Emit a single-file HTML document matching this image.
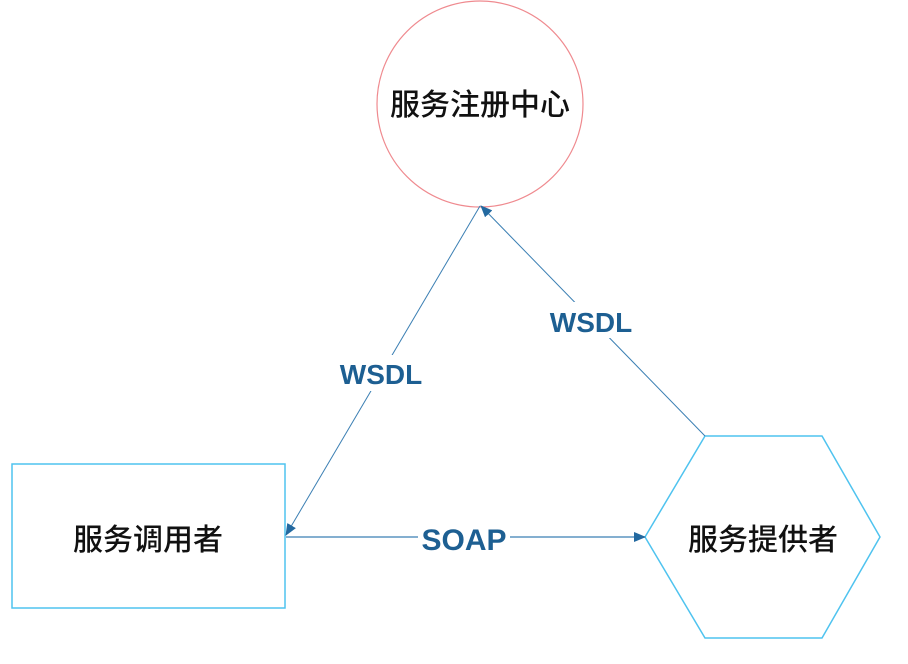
<!DOCTYPE html>
<html><head><meta charset="utf-8"><style>
body{margin:0;background:#fff;}
svg text{font-family:"Liberation Sans","Noto Sans CJK SC",sans-serif;}
</style></head><body>
<svg width="908" height="659" viewBox="0 0 908 659" xmlns="http://www.w3.org/2000/svg">
<defs>
<marker id="a" markerWidth="12" markerHeight="10" refX="11" refY="5" orient="auto" markerUnits="userSpaceOnUse">
<path d="M0,0 L12,5 L0,10 Z" fill="#2369a0"/></marker>
</defs>
<circle cx="480" cy="104" r="103" fill="none" stroke="#ef8a8f" stroke-width="1.2"/>
<rect x="12" y="464" width="273" height="144" fill="none" stroke="#4fc3ef" stroke-width="1.5"/>
<polygon points="645,537 705,436 822,436 880,537 822,638 705,638" fill="none" stroke="#4fc3ef" stroke-width="1.5"/>
<line x1="480" y1="206" x2="286" y2="535" stroke="#3b7fb3" stroke-width="1" marker-end="url(#a)"/>
<line x1="705" y1="436" x2="481" y2="206" stroke="#3b7fb3" stroke-width="1" marker-end="url(#a)"/>
<line x1="286" y1="537" x2="645" y2="537" stroke="#3b7fb3" stroke-width="1.2" marker-end="url(#a)"/>
<rect x="336" y="355" width="92" height="36" fill="#fff"/>
<text x="381" y="384" font-size="28" font-weight="bold" fill="#1d5f92" text-anchor="middle">WSDL</text>
<rect x="545" y="302" width="92" height="36" fill="#fff"/>
<text x="591" y="332" font-size="28" font-weight="bold" fill="#1d5f92" text-anchor="middle">WSDL</text>
<rect x="418" y="520" width="92" height="36" fill="#fff"/>
<text x="464" y="550" font-size="30" font-weight="bold" fill="#1d5f92" text-anchor="middle">SOAP</text>
<text x="480" y="115" font-size="30" font-weight="500" fill="#111" text-anchor="middle">服务注册中心</text>
<text x="148" y="550" font-size="30" font-weight="500" fill="#111" text-anchor="middle">服务调用者</text>
<text x="763" y="550" font-size="30" font-weight="500" fill="#111" text-anchor="middle">服务提供者</text>
</svg>
</body></html>
